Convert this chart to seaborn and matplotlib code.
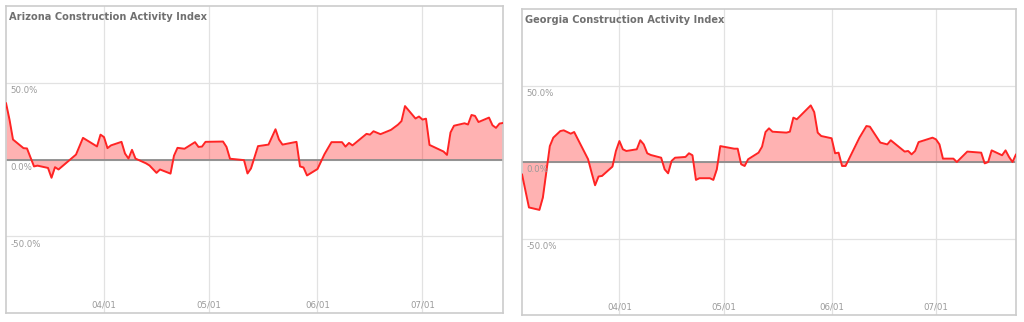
import matplotlib
matplotlib.use("Agg")
import matplotlib.pyplot as plt
import matplotlib.dates as mdates
import pandas as pd
import seaborn as sns

# Daily construction activity index, % change
az_dates = [
    "2020-03-04", "2020-03-05", "2020-03-06", "2020-03-09", "2020-03-10", "2020-03-12",
    "2020-03-13", "2020-03-16", "2020-03-17", "2020-03-18", "2020-03-19", "2020-03-24",
    "2020-03-26", "2020-03-30", "2020-03-31", "2020-04-01", "2020-04-02", "2020-04-03",
    "2020-04-06", "2020-04-07", "2020-04-08", "2020-04-09", "2020-04-10", "2020-04-13",
    "2020-04-14", "2020-04-16", "2020-04-17", "2020-04-20", "2020-04-21", "2020-04-22",
    "2020-04-24", "2020-04-27", "2020-04-28", "2020-04-29", "2020-04-30", "2020-05-05",
    "2020-05-06", "2020-05-07", "2020-05-11", "2020-05-12", "2020-05-13", "2020-05-15",
    "2020-05-18", "2020-05-20", "2020-05-21", "2020-05-22", "2020-05-26", "2020-05-27",
    "2020-05-28", "2020-05-29", "2020-06-01", "2020-06-03", "2020-06-05", "2020-06-08",
    "2020-06-09", "2020-06-10", "2020-06-11", "2020-06-15", "2020-06-16", "2020-06-17",
    "2020-06-19", "2020-06-22", "2020-06-24", "2020-06-25", "2020-06-26", "2020-06-29",
    "2020-06-30", "2020-07-01", "2020-07-02", "2020-07-03", "2020-07-07", "2020-07-08",
    "2020-07-09", "2020-07-10", "2020-07-13", "2020-07-14", "2020-07-15", "2020-07-16",
    "2020-07-17", "2020-07-20", "2020-07-21", "2020-07-22", "2020-07-23", "2020-07-24",
]
az_values = [
    36.8, 26.0, 13.0, 7.4, 7.2, -4.5,
    -4.0, -5.5, -11.9, -5.0, -6.5, 3.2,
    14.1, 8.5, 16.2, 14.6, 7.4, 9.2,
    11.5, 3.9, 0.6, 6.3, 0.6, -2.5,
    -3.9, -8.7, -6.5, -9.2, 2.5, 7.6,
    7.0, 11.3, 8.2, 8.4, 11.5, 11.7,
    8.2, 0.5, -0.4, -9.1, -5.8, 8.7,
    9.7, 19.7, 13.0, 9.7, 11.5, -4.5,
    -5.2, -10.4, -6.2, 3.5, 11.3, 11.3,
    8.4, 10.8, 9.2, 16.7, 16.2, 18.4,
    16.5, 19.3, 22.7, 25.0, 34.8, 26.7,
    28.0, 26.0, 26.6, 9.5, 5.2, 3.0,
    17.6, 22.0, 23.6, 22.8, 29.0, 28.4,
    24.4, 27.3, 22.3, 20.6, 23.4, 23.8,
]

ga_dates = [
    "2020-03-04", "2020-03-06", "2020-03-09", "2020-03-10", "2020-03-12", "2020-03-13",
    "2020-03-15", "2020-03-16", "2020-03-18", "2020-03-19", "2020-03-23", "2020-03-24",
    "2020-03-25", "2020-03-26", "2020-03-27", "2020-03-30", "2020-03-31", "2020-04-01",
    "2020-04-02", "2020-04-03", "2020-04-06", "2020-04-07", "2020-04-08", "2020-04-09",
    "2020-04-10", "2020-04-13", "2020-04-14", "2020-04-15", "2020-04-16", "2020-04-17",
    "2020-04-20", "2020-04-21", "2020-04-22", "2020-04-23", "2020-04-24", "2020-04-27",
    "2020-04-28", "2020-04-29", "2020-04-30", "2020-05-04", "2020-05-05", "2020-05-06",
    "2020-05-07", "2020-05-08", "2020-05-11", "2020-05-12", "2020-05-13", "2020-05-14",
    "2020-05-15", "2020-05-19", "2020-05-20", "2020-05-21", "2020-05-22", "2020-05-26",
    "2020-05-27", "2020-05-28", "2020-05-29", "2020-06-01", "2020-06-02", "2020-06-03",
    "2020-06-04", "2020-06-05", "2020-06-09", "2020-06-11", "2020-06-12", "2020-06-15",
    "2020-06-17", "2020-06-18", "2020-06-22", "2020-06-23", "2020-06-24", "2020-06-25",
    "2020-06-26", "2020-06-30", "2020-07-01", "2020-07-02", "2020-07-03", "2020-07-06",
    "2020-07-07", "2020-07-10", "2020-07-14", "2020-07-15", "2020-07-16", "2020-07-17",
    "2020-07-20", "2020-07-21", "2020-07-22", "2020-07-23", "2020-07-24",
]
ga_values = [
    -8.0, -29.7, -31.3, -23.2, 10.4, 15.9,
    20.2, 20.7, 18.5, 19.6, 1.8, -6.9,
    -15.2, -9.5, -9.1, -3.0, 7.2, 13.7,
    8.3, 7.2, 8.3, 14.2, 11.5, 5.7,
    4.6, 2.8, -4.8, -7.4, 0.7, 2.8,
    3.3, 5.7, 4.4, -11.7, -10.6, -10.6,
    -11.7, -4.8, 10.4, 8.7, 8.7, -1.5,
    -2.6, 1.8, 6.1, 10.0, 19.6, 22.0,
    19.8, 19.2, 19.8, 29.0, 27.9, 37.0,
    32.6, 19.2, 17.0, 15.5, 5.7, 6.1,
    -2.6, -2.6, 15.9, 23.5, 23.1, 12.7,
    11.5, 14.2, 6.8, 7.2, 5.0, 7.2,
    13.0, 15.9, 14.8, 11.5, 2.2, 2.2,
    0.0, 6.8, 6.1, -0.9, 0.0, 7.6,
    4.4, 7.6, 3.3, 0.0, 5.0,
]

month_ticks = ["2020-04-01", "2020-05-01", "2020-06-01", "2020-07-01"]
pct_ticks = [-50, 0, 50]
titles = ["Arizona Construction Activity Index", "Georgia Construction Activity Index"]

LINE_COLOR = "#ff2424"
FILL_COLOR = "#ff0000"
GRID_COLOR = "#e2e2e2"
FRAME_COLOR = "#cccccc"
LABEL_COLOR = "#9a9a9a"
TITLE_COLOR = "#707070"

sns.set_theme(style="white")
plt.rcParams["font.family"] = ["DejaVu Sans"]

fig = plt.figure(figsize=(10.24, 3.22), dpi=100)
W, H = 1024, 322
boxes = [
    [6 / W, 1 - 313 / H, 497 / W, 307 / H],
    [522 / W, 1 - 315 / H, 494 / W, 306 / H],
]


def draw_panel(ax, dates, values, title):
    df = pd.DataFrame({"date": pd.to_datetime(dates), "value": values})
    ax.fill_between(df["date"], df["value"], 0, color=FILL_COLOR, alpha=0.3,
                    linewidth=0, zorder=1)
    sns.lineplot(data=df, x="date", y="value", ax=ax, color=LINE_COLOR,
                 linewidth=1.4, zorder=3)
    ax.axhline(0, color="#8c8c8c", linewidth=1.3, zorder=2)

    ax.set_xlim(df["date"].iloc[0], df["date"].iloc[-1])
    ax.set_ylim(-100, 100)
    ax.set_xticks(pd.to_datetime(month_ticks))
    ax.xaxis.set_major_formatter(mdates.DateFormatter("%m/%d"))
    ax.set_yticks(pct_ticks)
    ax.set_yticklabels([])
    ax.grid(True, color=GRID_COLOR, linewidth=0.9)
    ax.set_axisbelow(True)
    ax.set_xlabel("")
    ax.set_ylabel("")
    ax.tick_params(axis="both", length=0)
    ax.tick_params(axis="x", pad=-9, labelsize=6.2, labelcolor=LABEL_COLOR)

    for v in pct_ticks:
        ax.annotate(f"{v:.1f}%", xy=(0, v), xycoords=("axes fraction", "data"),
                    xytext=(3, -2.5), textcoords="offset points",
                    ha="left", va="top", fontsize=6.2, color=LABEL_COLOR)

    ax.annotate(title, xy=(0, 1), xycoords="axes fraction", xytext=(2.5, -4),
                textcoords="offset points", ha="left", va="top",
                fontsize=7.1, fontweight="bold", color=TITLE_COLOR)

    for s in ax.spines.values():
        s.set_color(FRAME_COLOR)
        s.set_linewidth(1.2)


series = [(az_dates, az_values), (ga_dates, ga_values)]
for box, (dates, values), title in zip(boxes, series, titles):
    ax = fig.add_axes(box)
    draw_panel(ax, dates, values, title)

fig.savefig("out.png", dpi=100, facecolor="white")
